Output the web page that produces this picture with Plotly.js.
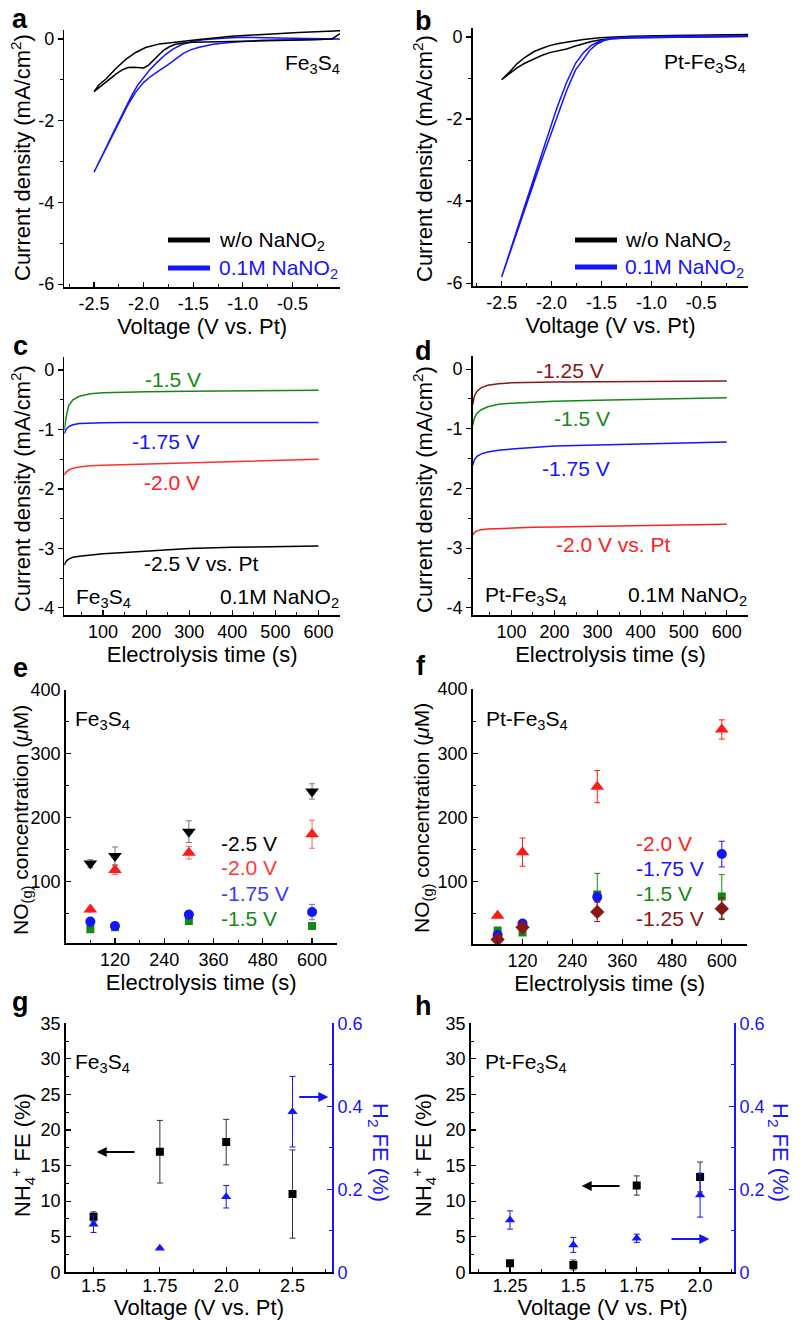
<!DOCTYPE html>
<html><head><meta charset="utf-8">
<script src="https://cdn.plot.ly/plotly-3.0.1.min.js"></script>
<style>body{margin:0;background:#fff}#chart{width:801px;height:1320px}</style>
</head><body><div id="chart"></div>
<script>
// ---------- DATA ----------
// (a) CV Fe3S4
const aBlackV = [-0.02,-0.1,-0.3,-0.5,-0.8,-1.1,-1.3,-1.5,-1.6,-1.68,-1.74,-1.8,-1.85,-1.9,-1.95,-2.0,-2.05,-2.1,-2.16,-2.22,-2.28,-2.35,-2.42,-2.5,-2.45,-2.38,-2.28,-2.18,-2.08,-1.98,-1.84,-1.68,-1.44,-1.11,-0.78,-0.44,-0.02];
const aBlackJ = [0.13,0.0,-0.02,-0.03,-0.04,-0.06,-0.07,-0.08,-0.1,-0.13,-0.19,-0.28,-0.4,-0.52,-0.64,-0.71,-0.7,-0.69,-0.7,-0.76,-0.86,-1.0,-1.14,-1.29,-1.12,-0.98,-0.72,-0.5,-0.33,-0.21,-0.12,-0.07,-0.01,0.07,0.12,0.16,0.2];
const aBlueV = [-0.02,-0.4,-0.8,-1.11,-1.3,-1.44,-1.52,-1.6,-1.68,-1.76,-1.84,-1.92,-2.0,-2.08,-2.16,-2.24,-2.32,-2.4,-2.5,-2.4,-2.3,-2.2,-2.12,-2.06,-2.0,-1.94,-1.86,-1.78,-1.7,-1.62,-1.52,-1.4,-1.2,-1.0,-0.5,-0.02];
const aBlueJ = [0.0,-0.01,-0.03,-0.08,-0.13,-0.2,-0.26,-0.35,-0.5,-0.64,-0.77,-0.9,-1.06,-1.3,-1.62,-2.0,-2.39,-2.78,-3.26,-2.76,-2.26,-1.76,-1.38,-1.13,-0.93,-0.76,-0.56,-0.38,-0.24,-0.14,-0.07,-0.02,0.02,0.04,0.02,0.0];
// (b) CV Pt-Fe3S4
const bBlackV = [-0.03,-0.8,-1.2,-1.4,-1.52,-1.6,-1.68,-1.76,-1.85,-1.93,-2.02,-2.1,-2.18,-2.27,-2.35,-2.42,-2.5,-2.42,-2.35,-2.27,-2.18,-2.1,-2.02,-1.93,-1.85,-1.76,-1.68,-1.52,-1.2,-0.8,-0.03];
const bBlackJ = [0.02,0.0,-0.02,-0.04,-0.07,-0.11,-0.16,-0.22,-0.29,-0.33,-0.38,-0.45,-0.54,-0.64,-0.76,-0.9,-1.04,-0.85,-0.66,-0.5,-0.36,-0.28,-0.21,-0.16,-0.13,-0.09,-0.06,-0.02,0.02,0.04,0.06];
const bBlueV = [-0.03,-0.8,-1.2,-1.4,-1.48,-1.55,-1.62,-1.68,-1.76,-1.85,-1.95,-2.02,-2.1,-2.2,-2.3,-2.4,-2.5,-2.4,-2.3,-2.2,-2.1,-2.02,-1.95,-1.85,-1.76,-1.68,-1.6,-1.52,-1.4,-1.2,-0.8,-0.03];
const bBlueJ = [0.01,0.0,-0.02,-0.04,-0.09,-0.18,-0.33,-0.54,-0.8,-1.31,-1.97,-2.45,-3.0,-3.72,-4.43,-5.14,-5.85,-5.1,-4.35,-3.6,-2.85,-2.24,-1.75,-1.11,-0.64,-0.38,-0.2,-0.1,-0.03,0.0,0.02,0.03];
// (c) chronoamperometry Fe3S4
const cTime = [10,14,20,30,45,70,100,150,200,300,400,500,600];
const c15 = [-1.01,-0.8,-0.6,-0.5,-0.44,-0.4,-0.38,-0.37,-0.365,-0.355,-0.35,-0.345,-0.34];
const c175 = [-1.07,-1.0,-0.95,-0.92,-0.9,-0.89,-0.885,-0.88,-0.88,-0.88,-0.88,-0.88,-0.88];
const c20 = [-1.77,-1.72,-1.68,-1.65,-1.63,-1.61,-1.6,-1.59,-1.58,-1.56,-1.54,-1.52,-1.5];
const c25 = [-3.28,-3.22,-3.18,-3.15,-3.13,-3.11,-3.09,-3.07,-3.05,-3.0,-2.98,-2.97,-2.96];
// (d) chronoamperometry Pt-Fe3S4
const dTime = [10,14,20,30,45,70,100,150,200,300,400,500,600];
const d125 = [-0.6,-0.45,-0.37,-0.31,-0.27,-0.245,-0.23,-0.22,-0.215,-0.21,-0.205,-0.2,-0.2];
const d15 = [-0.94,-0.82,-0.74,-0.68,-0.63,-0.59,-0.57,-0.55,-0.54,-0.52,-0.505,-0.49,-0.48];
const d175 = [-1.61,-1.52,-1.46,-1.42,-1.39,-1.36,-1.34,-1.31,-1.29,-1.27,-1.25,-1.235,-1.22];
const d20 = [-2.78,-2.74,-2.71,-2.69,-2.68,-2.67,-2.66,-2.65,-2.645,-2.635,-2.625,-2.615,-2.6];
// (e) NO(g) Fe3S4
const eTime = [60,120,300,600];
const e25 = [128,140,178,241], e25err = [6,14,17,12];
const e20 = [56,118,145,174], e20err = [4,7,10,22];
const e175 = [37,30,48,52], e175err = [3,5,3,12];
const e15 = [25,28,38,30], e15err = [2,3,3,3];
// (f) NO(g) Pt-Fe3S4
const fTime = [60,120,300,600];
const f20 = [47,146,248,337], f20err = [3,22,25,15];
const f175 = [17,35,76,143], f175err = [3,3,6,20];
const f15 = [24,21,80,77], f15err = [3,3,33,34];
const f125 = [10,29,53,58], f125err = [3,4,15,17];
// (g) FE Fe3S4
const gVolt = ['1.5','1.75','2.0','2.5'];
const gNH4 = [7.8,16.95,18.3,11.0], gNH4err = [0.7,4.4,3.2,6.2];
const gH2 = [0.116,0.058,0.182,0.387], gH2err = [0.02,0,0.027,0.085];
// (h) FE Pt-Fe3S4
const hVolt = ['1.25','1.5','1.75','2.0'];
const hNH4 = [1.26,1.03,12.2,13.4], hNH4err = [0,0.7,1.35,2.1];
const hH2 = [0.126,0.066,0.082,0.186], hH2err = [0.022,0.018,0.01,0.053];
// tick labels
const cvXTicks = [-2.5,-2,-1.5,-1,-0.5], cvXText = ['-2.5','-2.0','-1.5','-1.0','-0.5'];
const cvYTicks = [0,-2,-4,-6], cvYText = ['0','-2','-4','-6'];
const caYTicks = [0,-1,-2,-3,-4], caYText = ['0','-1','-2','-3','-4'];
const caXTicks = [100,200,300,400,500,600];
const noXTicks = [120,240,360,480,600];
const noYTicks = [100,200,300,400];
const feYTicks = [0,5,10,15,20,25,30,35];
const h2YTicks = [0,0.2,0.4,0.6], h2YText = ['0','0.2','0.4','0.6'];

// ---------- LAYOUT HELPERS ----------
const W = 801, H = 1320;
const FONT = 'Liberation Sans, Arial, Helvetica, sans-serif';
const BLK = '#000000', BLUE = '#1414ff', RED = '#ff1a1a', GREEN = '#138a13', BROWN = '#8a1616';
const px = x => x / W, py = y => 1 - y / H;
const dx = (a, b) => [px(a), px(b)];
const dy = (top, bot) => [py(bot), py(top)];
const idx = arr => arr.map((_, i) => i);

function axis(o) {
  const a = {
    domain: o.domain, range: o.range, anchor: o.anchor,
    tickmode: 'array', tickvals: o.tv, ticktext: o.tt || o.tv.map(String),
    ticks: o.ticks || 'inside', ticklen: 5, tickwidth: 1.2, tickcolor: o.color || BLK,
    showline: true, linecolor: o.color || BLK, linewidth: 1.5,
    showgrid: false, zeroline: false,
    tickfont: { family: FONT, size: 18, color: o.color || BLK }
  };
  if (o.title) a.title = { text: o.title, font: { family: FONT, size: o.tsize || 22, color: o.color || BLK }, standoff: o.standoff == null ? 4 : o.standoff };
  if (o.tls != null) a.ticklabelstandoff = o.tls;
  if (o.mv) a.minor = { tickmode: 'array', tickvals: o.mv, ticks: o.ticks || 'inside', ticklen: 3, tickwidth: 1, tickcolor: o.color || BLK, showgrid: false };
  if (o.side) a.side = o.side;
  if (o.overlaying) a.overlaying = o.overlaying;
  return a;
}

const L = [64.3, 340], R = [472.7, 748.3];
const layout = {
  width: W, height: H, margin: { l: 0, r: 0, t: 0, b: 0 },
  paper_bgcolor: '#fff', plot_bgcolor: 'rgba(0,0,0,0)', showlegend: false,
  font: { family: FONT, color: BLK },
  xaxis: axis({ domain: dx(...L), range: [-2.8, -0.02], anchor: 'y', tv: cvXTicks, tt: cvXText, mv: [-2.75,-2.25,-1.75,-1.25,-0.75,-0.25], title: 'Voltage (V vs. Pt)' }),
  yaxis: axis({ domain: dy(30, 287), range: [-6.07, 0.22], anchor: 'x', tv: cvYTicks, tt: cvYText, mv: [-5,-3,-1], ticks: 'outside' }),
  xaxis2: axis({ domain: dx(...R), range: [-2.79, -0.03], anchor: 'y2', tv: cvXTicks, tt: cvXText, mv: [-2.75,-2.25,-1.75,-1.25,-0.75,-0.25], title: 'Voltage (V vs. Pt)' }),
  yaxis2: axis({ domain: dy(28, 286), range: [-6.07, 0.22], anchor: 'x2', tv: cvYTicks, tt: cvYText, mv: [-5,-3,-1], ticks: 'outside' }),
  xaxis3: axis({ domain: dx(...L), range: [10, 650], anchor: 'y3', tv: caXTicks, mv: [50,150,250,350,450,550], title: 'Electrolysis time (s)' }),
  yaxis3: axis({ domain: dy(357, 615), range: [-4.12, 0.22], anchor: 'x3', tv: caYTicks, tt: caYText, mv: [-3.5,-2.5,-1.5,-0.5], ticks: 'outside' }),
  xaxis4: axis({ domain: dx(...R), range: [10, 650], anchor: 'y4', tv: caXTicks, mv: [50,150,250,350,450,550], title: 'Electrolysis time (s)' }),
  yaxis4: axis({ domain: dy(356, 615), range: [-4.12, 0.22], anchor: 'x4', tv: caYTicks, tt: caYText, mv: [-3.5,-2.5,-1.5,-0.5], ticks: 'outside' }),
  xaxis5: axis({ domain: dx(65.7, 336.7), range: [0, 660], anchor: 'y5', tv: noXTicks, mv: [60,180,300,420,540], title: 'Electrolysis time (s)' }),
  yaxis5: axis({ domain: dy(690, 943.3), range: [3, 400], anchor: 'x5', tv: noYTicks, mv: [50,150,250,350] }),
  xaxis6: axis({ domain: dx(472.7, 746.7), range: [0, 660], anchor: 'y6', tv: noXTicks, mv: [60,180,300,420,540], title: 'Electrolysis time (s)' }),
  yaxis6: axis({ domain: dy(689, 944), range: [3, 400], anchor: 'x6', tv: noYTicks, mv: [50,150,250,350] }),
  xaxis7: axis({ domain: dx(65.7, 332.3), range: [-0.42, 3.6], anchor: 'y7', tv: idx(gVolt), tt: gVolt, mv: [0.5,1.5,2.5,3.5], title: 'Voltage (V vs. Pt)', standoff: 0, tls: -3 }),
  yaxis7: axis({ domain: dy(1023.3, 1272.3), range: [0, 35], anchor: 'x7', tv: feYTicks, mv: [2.5,7.5,12.5,17.5,22.5,27.5,32.5] }),
  xaxis8: axis({ domain: dx(470.7, 734.3), range: [-0.62, 3.54], anchor: 'y8', tv: idx(hVolt), tt: hVolt, mv: [-0.5,0.5,1.5,2.5,3.5], title: 'Voltage (V vs. Pt)', standoff: 0, tls: -3 }),
  yaxis8: axis({ domain: dy(1023.3, 1272.3), range: [0, 35], anchor: 'x8', tv: feYTicks, mv: [2.5,7.5,12.5,17.5,22.5,27.5,32.5] }),
  yaxis9: axis({ domain: dy(1023.3, 1272.3), range: [0, 0.6], anchor: 'x7', overlaying: 'y7', side: 'right', tv: h2YTicks, tt: h2YText, mv: [0.1,0.3,0.5], color: BLUE }),
  yaxis10: axis({ domain: dy(1023.3, 1272.3), range: [0, 0.6], anchor: 'x8', overlaying: 'y8', side: 'right', tv: h2YTicks, tt: h2YText, mv: [0.1,0.3,0.5], color: BLUE }),
  annotations: [], shapes: []
};

// ---------- TRACES ----------
const traces = [];
function line(x, y, xa, ya, color, w) {
  traces.push({ type: 'scatter', mode: 'lines', x, y, xaxis: xa, yaxis: ya, line: { color, width: w || 1.5 }, hoverinfo: 'skip' });
}
function pts(x, y, err, xa, ya, color, symbol, size, ecolor) {
  traces.push({ type: 'scatter', mode: 'markers', x, y, xaxis: xa, yaxis: ya,
    marker: { color, symbol, size, line: { width: 0 } },
    error_y: { type: 'data', array: err, visible: true, color: ecolor || color, thickness: 1, width: 3 }, hoverinfo: 'skip' });
}
line(aBlueV, aBlueJ, 'x', 'y', BLUE, 1.5);
line(aBlackV, aBlackJ, 'x', 'y', BLK, 1.5);
line(bBlackV, bBlackJ, 'x2', 'y2', BLK, 1.5);
line(bBlueV, bBlueJ, 'x2', 'y2', BLUE, 1.5);
line(cTime, c15, 'x3', 'y3', GREEN);
line(cTime, c175, 'x3', 'y3', BLUE);
line(cTime, c20, 'x3', 'y3', '#ff3030');
line(cTime, c25, 'x3', 'y3', BLK);
line(dTime, d125, 'x4', 'y4', BROWN);
line(dTime, d15, 'x4', 'y4', GREEN);
line(dTime, d175, 'x4', 'y4', BLUE);
line(dTime, d20, 'x4', 'y4', '#ff2020');
pts(eTime, e15, e15err, 'x5', 'y5', GREEN, 'square', 8);
pts(eTime, e175, e175err, 'x5', 'y5', BLUE, 'circle', 10, '#6f6fff');
pts(eTime, e20, e20err, 'x5', 'y5', RED, 'triangle-up', 12, '#ff6060');
pts(eTime, e25, e25err, 'x5', 'y5', BLK, 'triangle-down', 12, '#777');
pts(fTime, f15, f15err, 'x6', 'y6', GREEN, 'square', 8);
pts(fTime, f175, f175err, 'x6', 'y6', BLUE, 'circle', 10);
pts(fTime, f20, f20err, 'x6', 'y6', RED, 'triangle-up', 12);
pts(fTime, f125, f125err, 'x6', 'y6', BROWN, 'diamond', 11);
pts(idx(gVolt), gNH4, gNH4err, 'x7', 'y7', BLK, 'square', 8, '#333');
pts(idx(gVolt), gH2, gH2err, 'x7', 'y9', BLUE, 'triangle-up', 9);
pts(idx(hVolt), hNH4, hNH4err, 'x8', 'y8', BLK, 'square', 8, '#333');
pts(idx(hVolt), hH2, hH2err, 'x8', 'y10', BLUE, 'triangle-up', 9);

// ---------- ANNOTATIONS ----------
const A = layout.annotations;
function txt(text, x, y, color, xanchor, size, bold, angle) {
  const a = { text: bold ? '<b>' + text + '</b>' : text, x: px(x), y: py(y), xref: 'paper', yref: 'paper',
    xanchor: xanchor || 'center', yanchor: 'middle', showarrow: false,
    font: { family: FONT, size: size || 21, color: color || BLK } };
  if (angle) a.textangle = angle;
  A.push(a);
}
function arrow(hx, hy, tx, color) {
  A.push({ text: '', x: px(hx), y: py(hy), xref: 'paper', yref: 'paper', ax: tx - hx, ay: 0,
    showarrow: true, arrowhead: 2, arrowsize: 1, arrowwidth: 2, arrowcolor: color });
}
// panel letters
[['a',20,19],['b',424,21],['c',20,346],['d',424,351],['e',20,668],['f',421,666],['g',20,1002],['h',424,1006]]
  .forEach(([t, x, y]) => txt(t, x, y, BLK, 'center', 27, true));
// y-axis titles
const CD = 'Current density (mA/cm<sup>2</sup>)';
const NO = 'NO<sub>(g)</sub> concentration (<i>μ</i>M)';
const NH = 'NH<sub>4</sub><sup>+</sup> FE (%)';
txt(CD, 21, 158, BLK, 'center', 22, false, -90);
txt(CD, 423, 158, BLK, 'center', 22, false, -90);
txt(CD, 21, 489, BLK, 'center', 22, false, -90);
txt(CD, 423, 489, BLK, 'center', 22, false, -90);
txt(NO, 22, 820, BLK, 'center', 21, false, -90);
txt(NO, 423, 818, BLK, 'center', 21, false, -90);
txt(NH, 22, 1155, BLK, 'center', 22, false, -90);
txt(NH, 423, 1155, BLK, 'center', 22, false, -90);
txt('H<sub>2</sub> FE (%)', 379, 1152, BLUE, 'center', 22, false, 90);
txt('H<sub>2</sub> FE (%)', 779, 1152, BLUE, 'center', 22, false, 90);
// a / b
txt('Fe<sub>3</sub>S<sub>4</sub>', 342, 64, BLK, 'right');
txt('Pt-Fe<sub>3</sub>S<sub>4</sub>', 748, 63, BLK, 'right');
txt('w/o NaNO<sub>2</sub>', 217, 241, BLK, 'left');
txt('0.1M NaNO<sub>2</sub>', 217, 269, BLUE, 'left');
txt('w/o NaNO<sub>2</sub>', 623, 241, BLK, 'left');
txt('0.1M NaNO<sub>2</sub>', 623, 268, BLUE, 'left');
layout.shapes.push(
  { type: 'line', xref: 'paper', yref: 'paper', x0: px(168), x1: px(210), y0: py(240), y1: py(240), line: { color: BLK, width: 5 } },
  { type: 'line', xref: 'paper', yref: 'paper', x0: px(168), x1: px(210), y0: py(268), y1: py(268), line: { color: BLUE, width: 5 } },
  { type: 'line', xref: 'paper', yref: 'paper', x0: px(575), x1: px(617), y0: py(240), y1: py(240), line: { color: BLK, width: 5 } },
  { type: 'line', xref: 'paper', yref: 'paper', x0: px(575), x1: px(617), y0: py(267), y1: py(267), line: { color: BLUE, width: 5 } }
);
// c
txt('-1.5 V', 173, 379, GREEN);
txt('-1.75 V', 166, 441, BLUE);
txt('-2.0 V', 172, 482, '#ff2020');
txt('-2.5 V vs. Pt', 201, 563, BLK);
txt('Fe<sub>3</sub>S<sub>4</sub>', 74, 598, BLK, 'left');
txt('0.1M NaNO<sub>2</sub>', 341, 598, BLK, 'right');
// d
txt('-1.25 V', 570, 371, BROWN);
txt('-1.5 V', 582, 418, GREEN);
txt('-1.75 V', 576, 469, BLUE);
txt('-2.0 V vs. Pt', 613, 544, '#ff2020');
txt('Pt-Fe<sub>3</sub>S<sub>4</sub>', 483, 596, BLK, 'left');
txt('0.1M NaNO<sub>2</sub>', 749, 596, BLK, 'right');
// e
txt('Fe<sub>3</sub>S<sub>4</sub>', 73, 720, BLK, 'left');
txt('-2.5 V', 219, 843, BLK, 'left');
txt('-2.0 V', 219, 867, '#ff3838', 'left');
txt('-1.75 V', 219, 893, '#3a3aff', 'left');
txt('-1.5 V', 219, 918, GREEN, 'left');
// f
txt('Pt-Fe<sub>3</sub>S<sub>4</sub>', 484, 720, BLK, 'left');
txt('-2.0 V', 634, 843, '#ff2020', 'left');
txt('-1.75 V', 634, 868, BLUE, 'left');
txt('-1.5 V', 634, 893, GREEN, 'left');
txt('-1.25 V', 634, 918, BROWN, 'left');
// g / h
txt('Fe<sub>3</sub>S<sub>4</sub>', 73, 1063, BLK, 'left');
txt('Pt-Fe<sub>3</sub>S<sub>4</sub>', 483, 1063, BLK, 'left');
arrow(96.7, 1152, 136, BLK);
arrow(328.3, 1097, 297.7, BLUE);
arrow(581.7, 1186, 621, BLK);
arrow(709.3, 1239, 670, BLUE);

Plotly.newPlot('chart', traces, layout, { displayModeBar: false, staticPlot: true });
</script></body></html>
